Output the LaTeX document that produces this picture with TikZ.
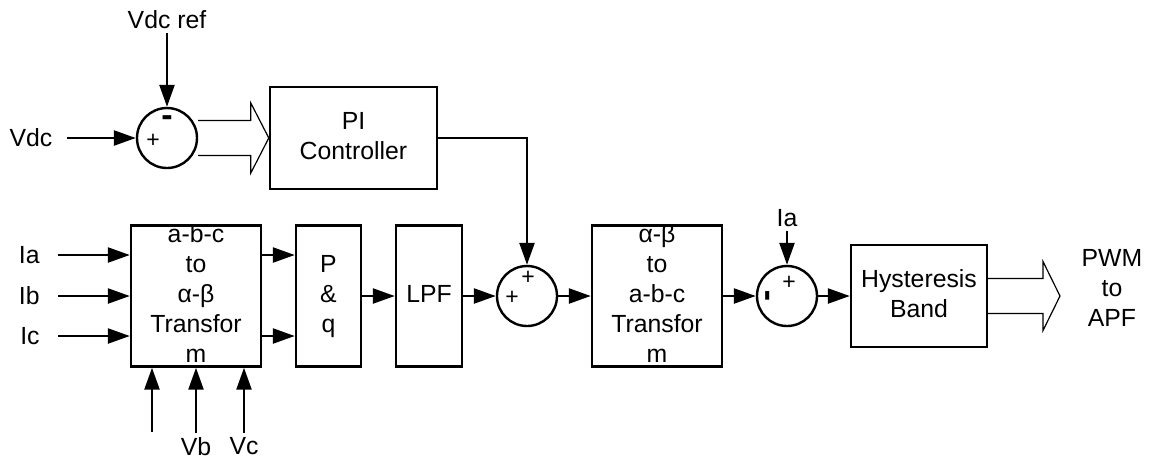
\documentclass[tikz,border=0pt]{standalone}
\usepackage{fontspec}
\setmainfont{Liberation Sans}
\usetikzlibrary{arrows.meta}

\newcommand{\blktext}[1]{\smash{\raisebox{-0.25em}{\begin{tabular}{@{}c@{}}#1\end{tabular}}}}

\begin{document}
\begin{tikzpicture}[
    x=0.5pt, y=-0.5pt,
    font=\fontsize{12.4}{15}\selectfont,
    blk/.style={draw, line width=1.2pt, inner sep=0pt},
    sumc/.style={draw, circle, line width=1.2pt, minimum size=30pt, inner sep=0pt},
    sgn/.style={font=\fontsize{11.5}{12}\selectfont, inner sep=0pt},
    bar/.style={font=\fontsize{17}{17}\selectfont\bfseries, inner sep=0pt},
    lbl/.style={inner sep=2pt},
    arr/.style={line width=1.2pt, -{Triangle[length=11pt, width=7.5pt]}},
    hollow/.style={line width=0.6pt, line join=miter},
]
\useasboundingbox (0,0) rectangle (1153,463);

% dc-link loop
\node[sumc] (s1) at (167,138) {};
\node[sgn] (s1p) at (153,141) {+};
\node[bar] (s1m) at (167,121) {-};
\node[lbl] (vdc) at (31,138) {Vdc};
\node[lbl, anchor=south] (vdcref) at (167,33) {Vdc ref};
\node[blk, minimum width=83.5pt, minimum height=51pt] (pi) at (353.5,138) {\blktext{PI\\Controller}};

\draw[arr, shorten <=5pt] (vdc) -- (s1);
\draw[arr] (vdcref.south) -- (s1.north);
\draw[hollow] ([yshift=8.75pt]s1.east) -- ([xshift=-9pt, yshift=8.75pt]pi.west)
    -- ([xshift=-9pt, yshift=17.5pt]pi.west) -- (pi.west)
    -- ([xshift=-9pt, yshift=-17.5pt]pi.west) -- ([xshift=-9pt, yshift=-8.75pt]pi.west)
    -- ([yshift=-8.75pt]s1.east);

% current path
\node[blk, minimum width=65pt, minimum height=70.5pt] (abc) at (196,296) {\blktext{a-b-c\\to\\α-β\\Transfor\\m}};
\node[blk, minimum width=32.5pt, minimum height=70.5pt] (pq) at (328.5,296) {\blktext{P\\\&\\q}};
\node[blk, minimum width=33pt, minimum height=70.5pt] (lpf) at (429,296) {\blktext{LPF}};
\node[sumc] (s2) at (527,296) {};
\node[sgn] (s2l) at (512,298) {+};
\node[sgn] (s2t) at (528,278) {+};
\node[blk, minimum width=65pt, minimum height=70.5pt] (dq) at (657,296) {\blktext{α-β\\to\\a-b-c\\Transfor\\m}};
\node[sumc] (s3) at (787,296) {};
\node[bar, rotate=90] (s3m) at (771,296) {-};
\node[sgn] (s3p) at (789,283) {+};
\node[blk, minimum width=68pt, minimum height=51pt] (hyst) at (919,296) {\blktext{Hysteresis\\Band}};
\node[lbl, anchor=south] (ia2) at (787,231) {Ia};
\node[lbl, align=center] (pwm) at (1112,288) {PWM\\to\\APF};
\coordinate (apf) at (1060,296);

\foreach \n/\y in {a/255,b/296,c/336} {
    \node[lbl, anchor=east] (i\n) at (44,\y) {I\n};
    \draw[arr, shorten <=7pt] (i\n) -- (abc.west |- i\n);
}
\draw[arr] (abc.east |- ia) -- (pq.west |- ia);
\draw[arr] (abc.east |- ic) -- (pq.west |- ic);

\coordinate (va) at (152,432);
\node[lbl, anchor=north] (vb) at (196,433) {Vb};
\node[lbl, anchor=north] (vc) at (244,433) {Vc};
\draw[arr] (va) -- (va |- abc.south);
\draw[arr] (vb.north) -- (vb.north |- abc.south);
\draw[arr] (vc.north) -- (vc.north |- abc.south);

\draw[arr] (pq) -- (lpf);
\draw[arr] (lpf) -- (s2);
\draw[arr] (pi.east) -| (s2.north);
\draw[arr] (s2) -- (dq);
\draw[arr] (dq) -- (s3);
\draw[arr] (ia2.south) -- (s3.north);
\draw[arr] (s3) -- (hyst);
\draw[hollow] ([yshift=8.75pt]hyst.east) -- ([xshift=-8.5pt, yshift=8.75pt]apf)
    -- ([xshift=-8.5pt, yshift=17.25pt]apf) -- (apf)
    -- ([xshift=-8.5pt, yshift=-17.25pt]apf) -- ([xshift=-8.5pt, yshift=-8.75pt]apf)
    -- ([yshift=-8.75pt]hyst.east);
\end{tikzpicture}
\end{document}
